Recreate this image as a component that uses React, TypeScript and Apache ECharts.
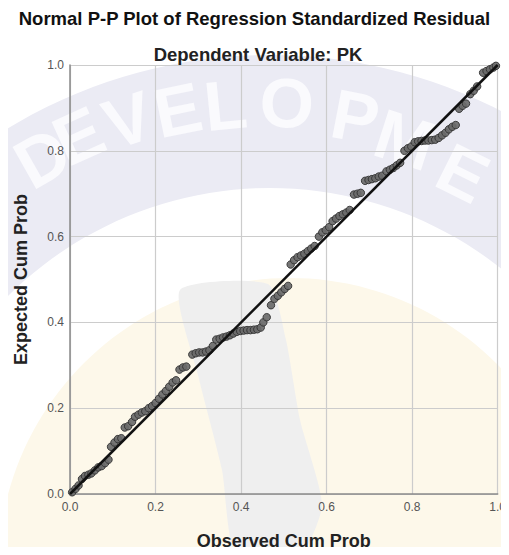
import React, { useEffect, useRef } from "react";
import * as echarts from "echarts";

const titleText = "Normal P-P Plot of Regression Standardized Residual";
const subtitleText = "Dependent Variable: PK";
const xAxisName = "Observed Cum Prob";
const yAxisName = "Expected Cum Prob";
const watermarkLetters = ["D", "E", "V", "E", "L", "O", "P", "M", "E"];

const observed = [
  0.005, 0.013, 0.02, 0.028, 0.035, 0.043, 0.05, 0.058, 0.066, 0.074, 0.082, 0.09,
  0.096, 0.104, 0.112, 0.12, 0.128, 0.136, 0.145, 0.152, 0.16, 0.168, 0.176, 0.184,
  0.192, 0.2, 0.208, 0.216, 0.224, 0.232, 0.24, 0.248, 0.256, 0.264, 0.272, 0.286,
  0.294, 0.302, 0.31, 0.318, 0.326, 0.334, 0.342, 0.35, 0.358, 0.366, 0.374, 0.382,
  0.39, 0.398, 0.406, 0.414, 0.422, 0.43, 0.438, 0.446, 0.452, 0.46, 0.47, 0.478,
  0.486, 0.494, 0.502, 0.51, 0.516, 0.524, 0.532, 0.54, 0.548, 0.556, 0.564, 0.572,
  0.582, 0.59, 0.598, 0.606, 0.614, 0.622, 0.63, 0.638, 0.646, 0.654, 0.664, 0.672,
  0.68, 0.69, 0.698, 0.706, 0.714, 0.722, 0.73, 0.74, 0.748, 0.756, 0.764, 0.772,
  0.782, 0.79, 0.798, 0.806, 0.814, 0.822, 0.83, 0.838, 0.846, 0.854, 0.862, 0.87,
  0.878, 0.886, 0.894, 0.902, 0.91, 0.918, 0.926, 0.936, 0.944, 0.952, 0.966, 0.974,
  0.982, 0.99, 0.996,
];

const expected = [
  0.004, 0.012, 0.02, 0.035, 0.042, 0.045, 0.048, 0.055, 0.062, 0.065, 0.072, 0.08,
  0.11, 0.12, 0.128, 0.13, 0.155, 0.158, 0.168, 0.18, 0.185, 0.19, 0.193, 0.2,
  0.205, 0.212, 0.222, 0.232, 0.24, 0.25, 0.26, 0.265, 0.29, 0.295, 0.297, 0.325,
  0.328, 0.33, 0.33, 0.332, 0.335, 0.345, 0.36, 0.362, 0.365, 0.367, 0.37, 0.374,
  0.378, 0.38, 0.381, 0.382, 0.382, 0.383, 0.384, 0.388, 0.4, 0.412, 0.44, 0.455,
  0.462, 0.47, 0.478, 0.485, 0.535, 0.545, 0.552, 0.556, 0.56, 0.566, 0.572, 0.578,
  0.6, 0.61, 0.615, 0.622, 0.636, 0.642, 0.648, 0.652, 0.656, 0.662, 0.698, 0.7,
  0.702, 0.73, 0.732, 0.734, 0.736, 0.74, 0.742, 0.752, 0.756, 0.76, 0.766, 0.772,
  0.8, 0.806, 0.81, 0.82, 0.822, 0.823, 0.824, 0.824, 0.825, 0.826, 0.83, 0.836,
  0.842, 0.85, 0.856, 0.86, 0.898, 0.905, 0.91, 0.932, 0.94, 0.95, 0.982, 0.986,
  0.99, 0.994, 0.998,
];

const refLine = [
  [0, 0],
  [1, 1],
];

// watermark geometry (background decoration only)
const WM_CX = 270;
const WM_CY = 560;
const WM_LETTER_ANGLES = [119.5, 114.3, 107.9, 101.6, 95.6, 87.9, 79.1, 72.2, 63.5];
const WM_LETTER_RADII = [462, 465, 462, 459, 457, 457, 451, 441, 432];

export default function App() {
  const ref = useRef<HTMLDivElement>(null);
  useEffect(() => {
    if (!ref.current) return;
    const chart = echarts.init(ref.current, undefined, { renderer: "svg" });
    const points = observed.map((x, i) => [x, expected[i]]);
    const fmt = (v: number) => v.toFixed(1);
    const font = "Liberation Sans, Arial, sans-serif";

    const letterEls = watermarkLetters.map((ch, i) => {
      const rad = (WM_LETTER_ANGLES[i] * Math.PI) / 180;
      const r = WM_LETTER_RADII[i];
      return {
        type: "text",
        x: WM_CX + r * Math.cos(rad),
        y: WM_CY - r * Math.sin(rad),
        rotation: rad - Math.PI / 2,
        z: -8,
        silent: true,
        style: {
          text: ch,
          fill: "#fafafd",
          font: "bold 70px Liberation Sans, Arial, sans-serif",
          align: "center",
          verticalAlign: "middle",
        },
      };
    });

    chart.setOption({
      animation: false,
      backgroundColor: "#ffffff",
      graphic: {
        elements: [
          {
            type: "ring",
            z: -10,
            silent: true,
            shape: { cx: WM_CX, cy: WM_CY, r: 505, r0: 372 },
            style: { fill: "#ebebf4" },
          },
          {
            type: "circle",
            z: -10,
            silent: true,
            shape: { cx: WM_CX + 20, cy: WM_CY + 10, r: 292 },
            style: { fill: "#fdf8ea" },
          },
          {
            type: "polygon",
            z: -9,
            silent: true,
            shape: {
              smooth: 0.2,
              points: [
                [180, 290],
                [268, 284],
                [286, 340],
                [300, 420],
                [322, 505],
                [300, 555],
                [236, 555],
                [222, 470],
                [198, 375],
              ],
            },
            style: { fill: "#efefef" },
          },
          ...letterEls,
        ],
      },
      title: [
        {
          text: titleText,
          left: "center",
          top: 4,
          textStyle: { fontFamily: font, fontWeight: "bold", fontSize: 18.5, color: "#111" },
        },
        {
          text: subtitleText,
          left: 253,
          textAlign: "center",
          top: 40,
          textStyle: { fontFamily: font, fontWeight: "bold", fontSize: 18.5, color: "#222" },
        },
      ],
      grid: { left: 70, right: 8, top: 65, bottom: 60 },
      xAxis: {
        type: "value",
        min: 0,
        max: 1,
        interval: 0.2,
        name: xAxisName,
        nameLocation: "middle",
        nameGap: 38,
        nameTextStyle: { fontFamily: font, fontWeight: "bold", fontSize: 18, color: "#222" },
        axisLine: { show: true, lineStyle: { color: "#8a8a8a", width: 1.5 } },
        axisTick: { show: false },
        axisLabel: { formatter: fmt, margin: 7, fontFamily: font, fontSize: 12, color: "#555" },
        splitLine: { show: true, lineStyle: { color: "#cccccc", width: 1.2 } },
      },
      yAxis: {
        type: "value",
        min: 0,
        max: 1,
        interval: 0.2,
        name: yAxisName,
        nameLocation: "middle",
        nameGap: 40,
        nameTextStyle: { fontFamily: font, fontWeight: "bold", fontSize: 18, color: "#222" },
        axisLine: { show: true, lineStyle: { color: "#8a8a8a", width: 1.5 } },
        axisTick: { show: false },
        axisLabel: { formatter: fmt, margin: 6, fontFamily: font, fontSize: 12, color: "#555" },
        splitLine: { show: true, lineStyle: { color: "#cccccc", width: 1.2 } },
      },
      series: [
        {
          type: "line",
          data: refLine,
          symbol: "none",
          lineStyle: { color: "#111", width: 2.5 },
          z: 3,
          silent: true,
        },
        {
          type: "scatter",
          data: points,
          symbol: "circle",
          symbolSize: 7.5,
          itemStyle: { color: "#6a6a6a", borderColor: "#333333", borderWidth: 1, opacity: 0.92 },
          z: 2,
        },
      ],
    });
    return () => chart.dispose();
  }, []);
  return <div ref={ref} style={{ width: 509, height: 555, margin: -8 }} />;
}
